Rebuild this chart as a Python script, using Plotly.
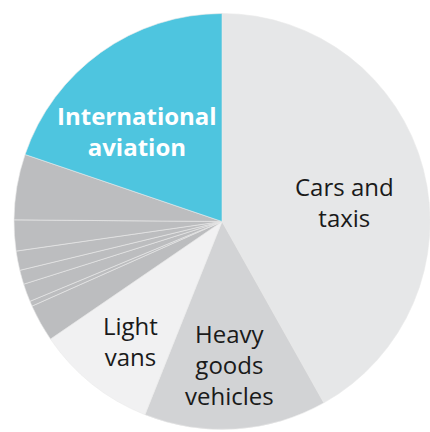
import plotly.graph_objects as go

# Share of transport emissions by source (percent), clockwise from 12 o'clock
sources = [
    "Cars and taxis",
    "Heavy goods vehicles",
    "Light vans",
    "Buses and coaches",
    "Motorcycles",
    "Rail",
    "Domestic aviation",
    "Domestic shipping",
    "Other road transport",
    "International shipping",
    "International aviation",
]
shares = [41.9, 14.2, 9.4, 2.9, 0.4, 1.4, 1.1, 1.5, 2.4, 5.1, 19.8]
colors = [
    "#e6e7e8", "#d2d3d5", "#f1f1f2",
    "#bcbdbf", "#bcbdbf", "#bcbdbf", "#bcbdbf", "#bcbdbf", "#bcbdbf", "#bcbdbf",
    "#4ec5df",
]

# Labels drawn over the named slices: (text, x px, y px, colour, weight)
slice_labels = [
    ("International<br>aviation", 137, 131, "white", "bold"),
    ("Cars and<br>taxis", 344, 202, "#1a1a1a", "normal"),
    ("Light<br>vans", 130, 341, "#1a1a1a", "normal"),
    ("Heavy<br>goods<br>vehicles", 230, 364, "#1a1a1a", "normal"),
]

W, H = 430, 432

fig = go.Figure(
    go.Pie(
        labels=sources,
        values=shares,
        sort=False,
        direction="clockwise",
        rotation=0,
        marker=dict(colors=colors, line=dict(color="#e9e9ea", width=0.6)),
        textinfo="none",
        hoverinfo="label+percent",
        showlegend=False,
        domain=dict(x=[14 / W, 1.0], y=[0.0, 421 / H]),
    )
)

for text, px, py, col, weight in slice_labels:
    fig.add_annotation(
        text=text,
        x=px / W,
        y=1 - py / H,
        xref="paper",
        yref="paper",
        xanchor="center",
        yanchor="middle",
        showarrow=False,
        align="center",
        font=dict(family="Open Sans", size=24, color=col, weight=weight),
    )

fig.update_layout(
    width=W,
    height=H,
    margin=dict(l=0, r=0, t=0, b=0),
    paper_bgcolor="white",
    plot_bgcolor="white",
)

fig.write_html("out.html")
